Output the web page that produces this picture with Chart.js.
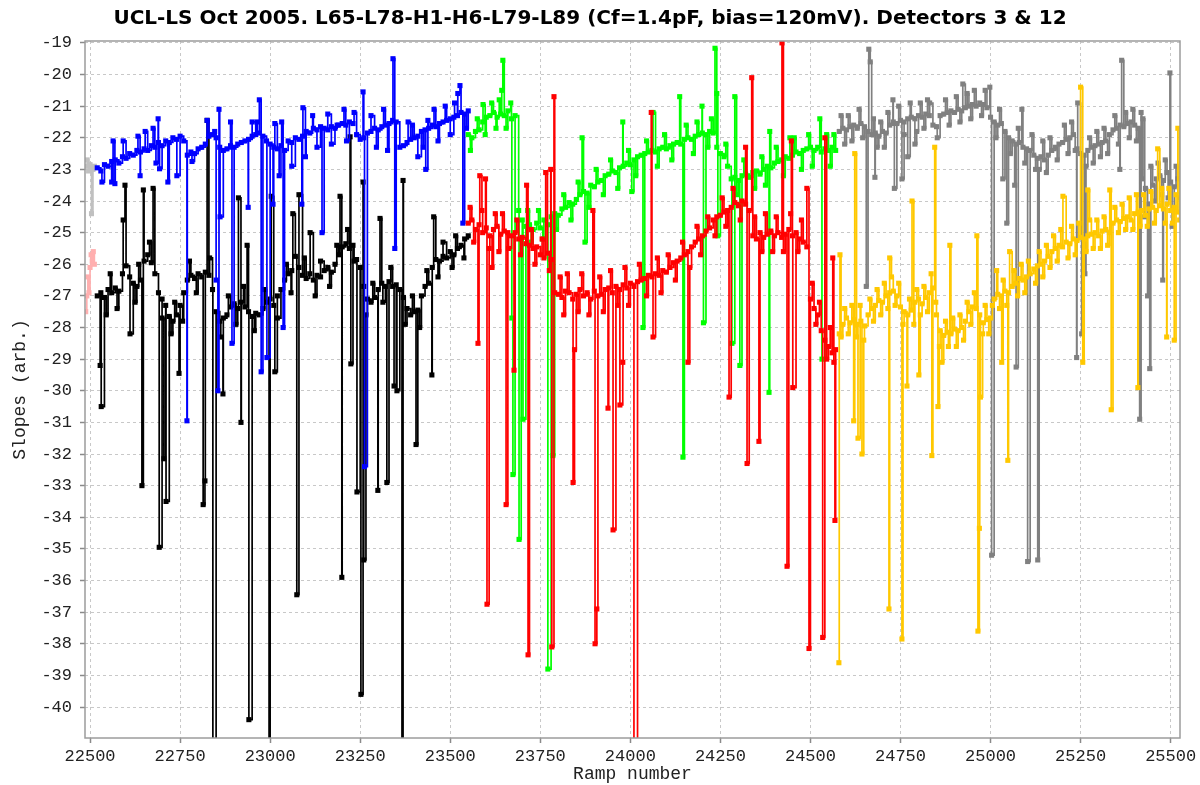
<!DOCTYPE html>
<html>
<head>
<meta charset="utf-8">
<script src="https://cdn.jsdelivr.net/npm/chart.js@4.4.0/dist/chart.umd.min.js"></script>
<style>
    html, body { margin: 0; padding: 0; background: #fff; }
</style>
</head>
<body>
<canvas id="slopeChart" width="1200" height="785"></canvas>
<script>
// --- DATA ---
const TITLE = 'UCL-LS Oct 2005. L65-L78-H1-H6-L79-L89 (Cf=1.4pF, bias=120mV). Detectors 3 & 12';
const X_MIN = 22486, X_MAX = 25526;
const Y_MIN = -40.98, Y_MAX = -18.94;
const X_TICKS = [22500, 22750, 23000, 23250, 23500, 23750, 24000, 24250, 24500, 24750, 25000, 25250, 25500];
const STEP = 10;

// short leading run
const pinkX = [22488, 22491, 22494, 22497, 22500, 22503, 22506, 22509, 22512];
const pinkY = [-27.5, -27.0, -26.4, -26.9, -26.1, -25.7, -25.9, -25.6, -26.0];
const lightGrayX = [22488, 22492, 22496, 22500, 22504, 22508, 22512];
const lightGrayY = [-22.9, -22.7, -23.05, -22.85, -24.4, -23.0, -22.9];

// run 2 : detectors 3 (blue) and 12 (black), ramps 22520..23550
const run2Start = 22520;
const blueY = [
    -22.95, -23.05, -22.85, -22.9, -22.75, -22.7, -22.8, -22.6, -22.65, -22.5,
    -22.55, -22.4, -22.45, -22.35, -22.4, -22.25, -22.3, -22.15, -22.25, -22.1,
    -22.15, -22.0, -22.05, -21.95, -22.1, -22.55, -22.45, -22.5, -22.35, -22.3,
    -22.2, -21.95, -21.9, -22.0, -22.3, -22.4, -22.35, -22.25, -22.3, -22.2,
    -22.15, -22.1, -22.05, -21.95, -21.9, -21.85, -21.95, -22.1, -22.2, -22.3,
    -22.35, -22.25, -22.4, -22.1, -22.15, -22.0, -22.05, -21.95, -21.8, -21.85,
    -21.7, -21.75, -21.65, -21.7, -21.75, -21.65, -21.7, -21.6, -21.55, -21.6,
    -21.5, -21.55, -21.9, -22.05, -22.0, -21.85, -21.8, -21.7, -21.75, -21.65,
    -21.6, -21.55, -21.45, -21.5, -22.3, -22.25, -22.15, -22.05, -22.0, -21.95,
    -21.8, -21.75, -21.7, -21.6, -21.65, -21.55, -21.5, -21.45, -21.4, -21.35,
    -21.3, -21.2, -21.25, -21.15
];
const blueSpikes = [
    [22564, -22.1], [22569, -23.45], [22639, -23.2], [22675, -21.7], [22689, -21.4],
    [22693, -22.98], [22716, -23.4], [22741, -23.2], [22769, -30.95], [22825, -21.45],
    [22846, -21.8], [22850, -26.5], [22855, -30.0], [22858, -21.1], [22894, -28.5],
    [22939, -24.2], [22970, -20.8], [22975, -29.4], [22991, -28.95], [23008, -24.1],
    [23013, -21.55], [23025, -23.2], [23036, -28.0], [23088, -24.1], [23091, -21.05],
    [23144, -25.0], [23186, -21.6], [23258, -20.55], [23262, -32.4], [23341, -19.5],
    [23346, -25.5], [23383, -21.5], [23432, -23.0], [23438, -21.45], [23521, -20.6],
    [23527, -20.35], [23535, -24.7]
];
const blueJitter = [
    [22533, -23.4], [22560, -23.4], [22592, -22.1], [22633, -21.95], [22653, -21.8],
    [22683, -22.8], [22783, -22.75], [22861, -24.5], [22890, -21.5], [22950, -21.5],
    [22964, -21.5], [23032, -21.5], [23060, -22.9], [23098, -22.6], [23118, -21.3],
    [23130, -22.3], [23160, -21.25], [23170, -22.2], [23205, -21.1], [23212, -22.1],
    [23233, -21.2], [23280, -21.3], [23295, -22.3], [23315, -21.1], [23326, -22.4],
    [23395, -21.6], [23410, -22.6], [23425, -22.3], [23455, -21.1], [23466, -22.1],
    [23486, -21.0], [23500, -21.9], [23512, -20.9], [23545, -21.7]
];
const blackY = [
    -27.0, -26.9, -27.05, -26.8, -26.9, -26.75, -26.85, -26.3, -26.05, -26.4,
    -26.6, -26.7, -26.5, -25.9, -25.7, -25.95, -26.3, -26.9, -27.1, -27.3,
    -27.65, -27.8, -27.6, -27.3, -26.9, -26.5, -26.35, -26.45, -26.3, -26.4,
    -26.25, -26.35, -26.8, -27.5, -27.8, -27.7, -27.6, -27.35, -27.25, -27.4,
    -27.2, -27.35, -27.5, -27.65, -27.55, -27.6, -27.4, -27.2, -27.1, -27.3,
    -27.0, -26.8, -26.5, -26.3, -26.2, -25.75, -26.1, -26.35, -26.45, -26.3,
    -26.5, -26.35, -26.4, -26.2, -26.1, -26.25, -26.0, -25.7, -25.45, -25.35,
    -25.5, -25.4, -25.85, -26.1, -26.7, -27.1, -27.2, -27.05, -26.8, -26.6,
    -26.7, -26.55, -26.7, -26.65, -26.8, -27.05, -27.4, -27.6, -27.5, -27.45,
    -27.0, -26.7, -26.6, -26.1, -25.85, -25.9, -25.75, -25.8, -25.6, -25.7,
    -25.5, -25.4, -25.2, -25.1
];
const blackSpikes = [
    [22528, -29.2], [22531, -30.5], [22592, -24.6], [22597, -23.5], [22611, -28.2],
    [22644, -33.0], [22648, -23.65], [22675, -23.6], [22692, -34.95], [22705, -32.15],
    [22711, -33.5], [22747, -29.45], [22814, -33.6], [22819, -32.85], [22825, -21.45],
    [22841, -42], [22869, -30.1], [22912, -23.9], [22919, -31.0], [22936, -25.4],
    [22941, -40.4], [22997, -42], [23003, -23.85], [23013, -29.4], [23063, -24.4],
    [23074, -36.45], [23080, -23.8], [23111, -25.0], [23194, -23.85], [23199, -35.9],
    [23222, -21.97], [23224, -29.15], [23241, -33.2], [23252, -39.6], [23258, -23.4],
    [23260, -35.35], [23299, -33.15], [23305, -24.55], [23324, -32.9], [23344, -29.85],
    [23352, -30.0], [23366, -42], [23369, -23.35], [23405, -31.7], [23449, -29.5],
    [23454, -24.5]
];
const blackJitter = [
    [22545, -27.6], [22556, -26.3], [22575, -27.4], [22625, -27.2], [22635, -26.0],
    [22665, -25.3], [22700, -27.7], [22725, -28.2], [22735, -27.2], [22757, -27.8],
    [22776, -25.9], [22795, -26.9], [22832, -25.8], [22863, -28.3], [22884, -27.0],
    [22905, -27.9], [22926, -26.7], [22956, -28.1], [22985, -26.8], [23020, -27.7],
    [23045, -26.0], [23058, -26.9], [23095, -25.8], [23125, -27.0], [23140, -25.9],
    [23165, -26.7], [23185, -25.4], [23215, -24.9], [23233, -25.9], [23266, -27.6],
    [23285, -26.6], [23313, -27.2], [23335, -26.1], [23375, -27.9], [23395, -27.0],
    [23415, -28.0], [23435, -26.2], [23466, -26.4], [23480, -25.3], [23505, -26.1],
    [23515, -25.1], [23538, -25.8]
];

// run 3 : detectors 3 (green) and 12 (red), ramps 23550..24570
const run3Start = 23550;
const greenY = [
    -21.9, -22.0, -21.8, -21.75, -21.5, -21.35, -21.3, -21.2, -21.35, -21.25,
    -21.3, -21.15, -21.4, -21.3, -24.3, -24.6, -24.8, -24.75, -24.9, -24.7,
    -24.85, -24.6, -24.75, -24.5, -24.4, -24.45, -24.25, -24.2, -24.05, -24.1,
    -23.95, -23.8, -23.7, -23.75, -23.5, -23.55, -23.4, -23.35, -23.2, -23.15,
    -23.05, -23.1, -22.95, -22.9, -22.8, -22.85, -22.7, -22.6, -22.55, -22.5,
    -22.45, -22.4, -22.45, -22.35, -22.3, -22.35, -22.25, -22.2, -22.15, -22.2,
    -22.05, -22.0, -22.05, -21.95, -21.9, -21.85, -21.9, -21.8, -21.85, -22.3,
    -22.5, -22.6, -22.9, -23.3, -23.25, -23.35, -23.2, -23.15, -23.25, -23.1,
    -23.05, -23.15, -23.0, -22.9, -22.95, -22.8, -22.75, -22.7, -22.6, -22.65,
    -22.55, -22.45, -22.5, -22.4, -22.35, -22.3, -22.4, -22.3, -22.45, -22.35,
    -22.4, -22.3, -22.4
];
const greenSpikes = [
    [23591, -20.95], [23643, -20.5], [23646, -19.55], [23671, -27.7], [23674, -32.65],
    [23691, -34.7], [23702, -30.9], [23771, -38.8], [23785, -32.05], [23866, -22.0],
    [23874, -25.3], [23979, -21.5], [24004, -23.7], [24035, -28.0], [24063, -21.2],
    [24137, -20.7], [24146, -32.1], [24199, -21.0], [24203, -27.85], [24235, -19.17],
    [24240, -20.6], [24243, -25.1], [24282, -28.5], [24290, -20.7], [24304, -29.2],
    [24385, -30.05], [24387, -21.8], [24443, -22.0], [24526, -21.4], [24532, -29.0]
];
const greenJitter = [
    [23556, -22.4], [23575, -21.4], [23597, -21.9], [23615, -20.9], [23627, -21.7],
    [23636, -20.8], [23655, -21.7], [23668, -20.9], [23697, -25.2], [23715, -24.3],
    [23725, -25.3], [23745, -24.3], [23757, -25.2], [23795, -24.9], [23815, -23.8],
    [23835, -24.6], [23855, -23.4], [23885, -24.2], [23905, -23.0], [23925, -23.8],
    [23945, -22.7], [23965, -23.6], [23995, -22.4], [24015, -23.2], [24045, -22.1],
    [24075, -22.9], [24095, -21.9], [24115, -22.7], [24155, -21.6], [24175, -22.5],
    [24185, -21.5], [24215, -22.3], [24225, -21.4], [24265, -22.2], [24295, -23.8],
    [24315, -22.7], [24345, -23.6], [24365, -22.6], [24375, -23.5], [24405, -22.3],
    [24425, -23.2], [24455, -22.0], [24475, -23.0], [24495, -21.9], [24505, -22.9],
    [24545, -21.9], [24555, -22.9], [24565, -21.9]
];
const redY = [
    -24.7, -24.6, -24.9, -24.75, -25.0, -24.85, -25.1, -24.9, -24.8, -25.05,
    -24.95, -25.0, -25.1, -25.0, -25.2, -25.15, -25.35, -25.4, -25.5, -25.45,
    -25.7, -25.8, -25.65, -25.85, -26.9, -26.95, -27.05, -26.85, -26.9, -27.1,
    -26.95, -26.8, -27.0, -26.9, -27.1, -26.85, -27.0, -26.95, -26.8, -26.75,
    -26.9, -26.7, -26.8, -26.65, -26.75, -26.6, -26.7, -26.55, -26.5, -26.45,
    -26.35, -26.4, -26.3, -26.35, -26.2, -26.25, -26.1, -25.95, -25.9, -25.8,
    -25.7, -25.6, -25.45, -25.3, -25.2, -25.1, -24.95, -24.85, -24.6, -24.5,
    -24.45, -24.35, -24.3, -24.2, -24.05, -24.15, -24.0, -24.1, -24.3, -25.1,
    -25.2, -25.0, -25.15, -25.05, -24.95, -25.1, -25.0, -25.15, -25.05, -24.9,
    -25.1, -25.0, -25.2, -25.3, -25.45, -27.1, -27.4, -27.6, -28.1, -28.4,
    -28.6, -28.8, -28.7
];
const redSpikes = [
    [23577, -28.5], [23582, -23.2], [23598, -23.3], [23602, -36.75], [23616, -26.1],
    [23655, -33.6], [23677, -29.35], [23712, -23.5], [23716, -38.35], [23765, -23.1],
    [23779, -23.0], [23782, -38.1], [23788, -20.7], [23841, -32.9], [23845, -28.7],
    [23896, -24.3], [23902, -38.0], [23907, -36.9], [23938, -30.55], [23952, -34.4],
    [23971, -30.45], [23979, -29.1], [24010, -42], [24058, -21.2], [24063, -28.3],
    [24160, -29.1], [24274, -30.2], [24320, -22.3], [24324, -32.3], [24337, -20.1],
    [24357, -31.6], [24421, -19.0], [24435, -35.55], [24447, -22.1], [24451, -29.9],
    [24490, -23.6], [24496, -38.15], [24534, -37.8], [24540, -22.0], [24562, -25.8],
    [24568, -34.1]
];
const redJitter = [
    [23555, -24.2], [23565, -25.3], [23588, -24.3], [23608, -25.5], [23625, -24.4],
    [23635, -25.6], [23645, -24.4], [23662, -25.5], [23685, -24.6], [23695, -25.7],
    [23725, -24.9], [23735, -26.0], [23755, -25.2], [23775, -26.2], [23805, -26.4],
    [23815, -27.6], [23825, -26.3], [23855, -27.5], [23865, -26.3], [23885, -27.6],
    [23915, -26.4], [23925, -27.5], [23945, -26.2], [23965, -27.3], [23985, -26.1],
    [23995, -27.3], [24025, -26.0], [24045, -27.0], [24075, -25.8], [24085, -26.9],
    [24105, -25.7], [24125, -26.5], [24145, -25.3], [24165, -26.1], [24185, -24.8],
    [24195, -25.7], [24215, -24.5], [24235, -25.1], [24255, -23.9], [24265, -24.8],
    [24285, -23.6], [24305, -24.6], [24345, -24.5], [24365, -25.6], [24375, -24.4],
    [24395, -25.6], [24405, -24.5], [24425, -25.6], [24445, -24.4], [24465, -25.6],
    [24475, -24.6], [24505, -26.6], [24515, -27.9], [24525, -27.2], [24545, -29.0],
    [24555, -28.0], [24565, -29.1]
];

// run 4 : detectors 3 (grey) and 12 (orange), ramps 24580..25530
const run4Start = 24580;
const grayY = [
    -21.8, -21.7, -21.75, -21.65, -21.6, -21.7, -21.55, -21.65, -21.8, -21.9,
    -21.85, -21.95, -21.8, -21.85, -21.6, -21.5, -21.55, -21.45, -21.5, -21.4,
    -21.35, -21.4, -21.3, -21.35, -21.25, -21.3, -21.6, -21.65, -21.3, -21.25,
    -21.2, -21.15, -21.2, -21.1, -21.15, -21.05, -21.0, -20.95, -21.0, -20.9,
    -20.95, -21.05, -21.35, -21.5, -21.6, -21.55, -21.8, -22.0, -22.1, -22.2,
    -22.15, -22.3, -22.35, -22.4, -22.55, -22.65, -22.6, -22.7, -22.55, -22.4,
    -22.3, -22.2, -22.15, -22.05, -22.0, -21.9, -22.35, -22.5, -22.55, -22.4,
    -22.3, -22.25, -22.2, -22.15, -22.1, -21.9, -21.75, -21.7, -21.6, -21.65,
    -21.55, -21.5, -21.6, -21.7, -23.3, -23.6, -24.1, -23.5, -23.3, -23.2,
    -23.35, -23.1, -23.4, -23.55, -23.3, -23.45
];
const graySpikes = [
    [24655, -26.7], [24662, -19.2], [24666, -19.6], [24679, -23.25], [24729, -20.8],
    [24733, -23.6], [24754, -23.3], [24770, -22.6], [24790, -22.2], [24831, -20.9],
    [24923, -20.3], [24998, -20.4], [25003, -35.2], [25034, -23.3], [25045, -24.7],
    [25067, -23.5], [25071, -29.25], [25087, -21.1], [25103, -35.4], [25131, -35.35],
    [25135, -23.0], [25239, -28.95], [25242, -20.9], [25253, -28.2], [25262, -26.3],
    [25359, -23.0], [25364, -19.55], [25414, -30.9], [25423, -21.4], [25436, -27.0],
    [25442, -29.3], [25478, -26.5], [25498, -19.95], [25504, -24.8]
];
const grayJitter = [
    [24585, -21.3], [24595, -22.2], [24605, -21.3], [24615, -22.1], [24635, -21.1],
    [24645, -22.0], [24675, -21.4], [24685, -22.3], [24695, -21.5], [24705, -22.3],
    [24715, -21.2], [24745, -21.0], [24760, -21.9], [24777, -20.9], [24795, -21.8],
    [24805, -20.9], [24815, -21.7], [24825, -20.8], [24852, -22.0], [24875, -20.8],
    [24885, -21.6], [24905, -20.7], [24915, -21.5], [24935, -20.6], [24945, -21.4],
    [24955, -20.5], [24975, -21.3], [24985, -20.5], [25015, -22.0], [25025, -21.1],
    [25055, -22.5], [25077, -21.7], [25095, -22.8], [25115, -21.9], [25125, -23.0],
    [25145, -22.1], [25155, -23.1], [25165, -22.0], [25185, -22.7], [25205, -21.6],
    [25215, -22.5], [25225, -21.5], [25235, -22.4], [25265, -22.9], [25275, -22.0],
    [25285, -22.8], [25295, -21.8], [25305, -22.6], [25315, -21.7], [25325, -22.5],
    [25345, -21.3], [25355, -22.2], [25375, -21.2], [25385, -22.0], [25395, -21.1],
    [25405, -22.1], [25418, -21.2], [25428, -24.5], [25445, -22.9], [25455, -24.0],
    [25465, -22.8], [25475, -23.8], [25485, -22.7], [25493, -23.9], [25515, -22.9],
    [25525, -23.9]
];
const orangeY = [
    -28.2, -27.9, -27.7, -27.85, -27.75, -27.9, -27.8, -27.95, -27.6, -27.4,
    -27.3, -27.15, -27.2, -27.0, -26.9, -26.85, -27.0, -27.35, -27.5, -27.6,
    -27.45, -27.2, -27.1, -27.25, -27.05, -26.9, -26.75, -27.6, -28.1, -28.25,
    -28.15, -28.2, -28.05, -28.1, -28.0, -27.8, -27.5, -27.35, -27.4, -27.6,
    -27.85, -27.75, -27.7, -27.1, -26.95, -27.0, -26.85, -26.9, -26.7, -26.6,
    -26.45, -26.5, -26.4, -26.3, -26.15, -26.05, -26.0, -25.9, -25.75, -25.6,
    -25.5, -25.4, -25.45, -25.3, -25.35, -25.2, -25.25, -25.15, -25.2, -25.1,
    -25.05, -25.0, -25.1, -24.95, -24.9, -25.0, -24.7, -24.6, -24.65, -24.55,
    -24.5, -24.6, -24.4, -24.35, -24.3, -24.45, -24.25, -24.2, -24.3, -24.15,
    -24.25, -24.1, -24.3, -24.2, -24.35, -24.25
];
const orangeSpikes = [
    [24579, -38.6], [24582, -25.7], [24620, -30.95], [24623, -22.5], [24632, -31.5],
    [24643, -32.0], [24718, -36.9], [24720, -25.8], [24754, -37.85], [24768, -29.85],
    [24782, -24.0], [24801, -29.5], [24837, -32.05], [24845, -22.3], [24854, -30.5],
    [24865, -29.1], [24887, -25.4], [24962, -25.1], [24965, -37.6], [24969, -34.35],
    [24972, -30.2], [25017, -26.2], [25031, -29.1], [25048, -32.2], [25053, -25.6],
    [25201, -23.85], [25250, -20.4], [25256, -29.1], [25270, -23.65], [25331, -23.65],
    [25335, -30.6], [25409, -29.9], [25464, -22.35], [25489, -28.3], [25510, -28.4],
    [25520, -21.7]
];
const orangeJitter = [
    [24585, -28.3], [24595, -27.4], [24605, -28.2], [24615, -27.3], [24628, -28.3],
    [24638, -27.3], [24648, -28.4], [24665, -27.1], [24675, -27.8], [24685, -26.8],
    [24695, -27.6], [24705, -26.6], [24715, -27.4], [24725, -26.4], [24735, -27.3],
    [24745, -26.6], [24757, -27.9], [24775, -27.1], [24787, -27.9], [24795, -26.8],
    [24805, -27.6], [24815, -26.7], [24825, -27.5], [24835, -26.3], [24848, -27.2],
    [24858, -28.6], [24875, -27.8], [24883, -28.6], [24895, -27.7], [24905, -28.6],
    [24915, -27.6], [24925, -28.4], [24935, -27.2], [24945, -27.9], [24955, -26.9],
    [24978, -28.2], [24985, -27.3], [24995, -28.2], [25005, -27.3], [25025, -27.4],
    [25035, -26.5], [25045, -27.3], [25065, -26.2], [25075, -27.0], [25085, -26.0],
    [25095, -26.9], [25105, -25.9], [25125, -26.6], [25135, -25.6], [25145, -26.4],
    [25155, -25.4], [25165, -26.1], [25175, -25.1], [25185, -25.9], [25195, -24.9],
    [25215, -25.8], [25225, -24.8], [25235, -25.7], [25245, -24.7], [25265, -25.6],
    [25275, -24.6], [25285, -25.5], [25295, -24.6], [25305, -25.5], [25315, -24.5],
    [25325, -25.4], [25345, -24.2], [25355, -25.0], [25365, -24.1], [25375, -24.9],
    [25385, -23.9], [25395, -24.9], [25405, -23.8], [25415, -24.8], [25425, -23.8],
    [25435, -24.8], [25445, -23.7], [25455, -24.7], [25475, -23.6], [25485, -24.7],
    [25495, -23.6], [25505, -24.7], [25515, -23.8], [25525, -24.6]
];

// --- HELPERS ---
// regular ramp samples plus the odd outliers, merged in ramp order
function buildSeries(start, values, spikes, jitter) {
    const pts = values.map((y, i) => ({ x: start + i * STEP, y: y }));
    spikes.concat(jitter).forEach(([x, y]) => pts.push({ x: x, y: y }));
    return pts.sort((a, b) => a.x - b.x);
}

function zipXY(xs, ys) {
    return xs.map((x, i) => ({ x: x, y: ys[i] }));
}

function trace(label, color, data) {
    return {
        label: label,
        data: data,
        borderColor: color,
        backgroundColor: color,
        borderWidth: 1.7,
        stepped: true,
        pointStyle: 'rect',
        pointRadius: 3.6,
        pointBorderWidth: 0,
        fill: false
    };
}

const plotFrame = {
    id: 'plotFrame',
    beforeDraw(chart) {
        const ctx = chart.ctx;
        ctx.save();
        ctx.fillStyle = '#fff';
        ctx.fillRect(0, 0, chart.width, chart.height);
        ctx.restore();
    },
    afterDraw(chart) {
        const { ctx, chartArea: a } = chart;
        ctx.save();
        ctx.strokeStyle = '#9c9c9c';
        ctx.lineWidth = 1.5;
        ctx.strokeRect(a.left, a.top, a.right - a.left, a.bottom - a.top);
        ctx.restore();
    }
};

// --- CHART ---
const monoFont = { family: "'Liberation Mono', 'DejaVu Sans Mono', monospace", size: 17 };
const axisTitleFont = { family: "'Liberation Mono', 'DejaVu Sans Mono', monospace", size: 18 };

// the first entry is painted last, so the last run goes first
const datasets = [
    trace('Det 12 run 4', '#ffc800', buildSeries(run4Start, orangeY, orangeSpikes, orangeJitter)),
    trace('Det 3 run 4', '#808080', buildSeries(run4Start, grayY, graySpikes, grayJitter)),
    trace('Det 12 run 3', '#ff0000', buildSeries(run3Start, redY, redSpikes, redJitter)),
    trace('Det 3 run 3', '#00ff00', buildSeries(run3Start, greenY, greenSpikes, greenJitter)),
    trace('Det 3 run 2', '#0000ff', buildSeries(run2Start, blueY, blueSpikes, blueJitter)),
    trace('Det 12 run 2', '#000000', buildSeries(run2Start, blackY, blackSpikes, blackJitter)),
    trace('Det 12 run 1', '#ffafaf', zipXY(pinkX, pinkY)),
    trace('Det 3 run 1', '#c0c0c0', zipXY(lightGrayX, lightGrayY))
];

const ctx = document.getElementById('slopeChart').getContext('2d');
new Chart(ctx, {
    type: 'line',
    data: { datasets: datasets },
    plugins: [plotFrame],
    options: {
        responsive: false,
        animation: false,
        events: [],
        layout: { padding: { left: 0, right: 20, top: 0, bottom: 0 } },
        plugins: {
            legend: { display: false },
            tooltip: { enabled: false },
            title: {
                display: true,
                text: TITLE,
                color: '#000',
                font: { family: "'DejaVu Sans', sans-serif", size: 20, weight: 'bold' },
                padding: { top: 7, bottom: 10 }
            }
        },
        scales: {
            x: {
                type: 'linear',
                min: X_MIN,
                max: X_MAX,
                afterFit: (scale) => { scale.height = 47; },
                afterBuildTicks: (scale) => { scale.ticks = X_TICKS.map(v => ({ value: v })); },
                ticks: {
                    autoSkip: false,
                    maxRotation: 0,
                    padding: 3,
                    color: '#222',
                    font: monoFont,
                    callback: (v) => String(v)
                },
                grid: { color: '#c8c8c8', tickLength: 5, tickColor: '#8a8a8a', tickWidth: 1.5 },
                border: { display: false, dash: [3, 3] },
                title: { display: true, text: 'Ramp number', color: '#222', font: axisTitleFont, padding: 0 }
            },
            y: {
                min: Y_MIN,
                max: Y_MAX,
                afterFit: (scale) => { scale.width = 85; },
                ticks: {
                    stepSize: 1,
                    includeBounds: false,
                    autoSkip: false,
                    padding: 8,
                    color: '#222',
                    font: monoFont,
                    callback: (v) => String(v)
                },
                grid: { color: '#c8c8c8', tickLength: 5, tickColor: '#8a8a8a', tickWidth: 1.5 },
                border: { display: false, dash: [3, 3] },
                title: { display: true, text: 'Slopes (arb.)', color: '#222', font: axisTitleFont, padding: { top: 9, bottom: 0 } }
            }
        }
    }
});
</script>
</body>
</html>
